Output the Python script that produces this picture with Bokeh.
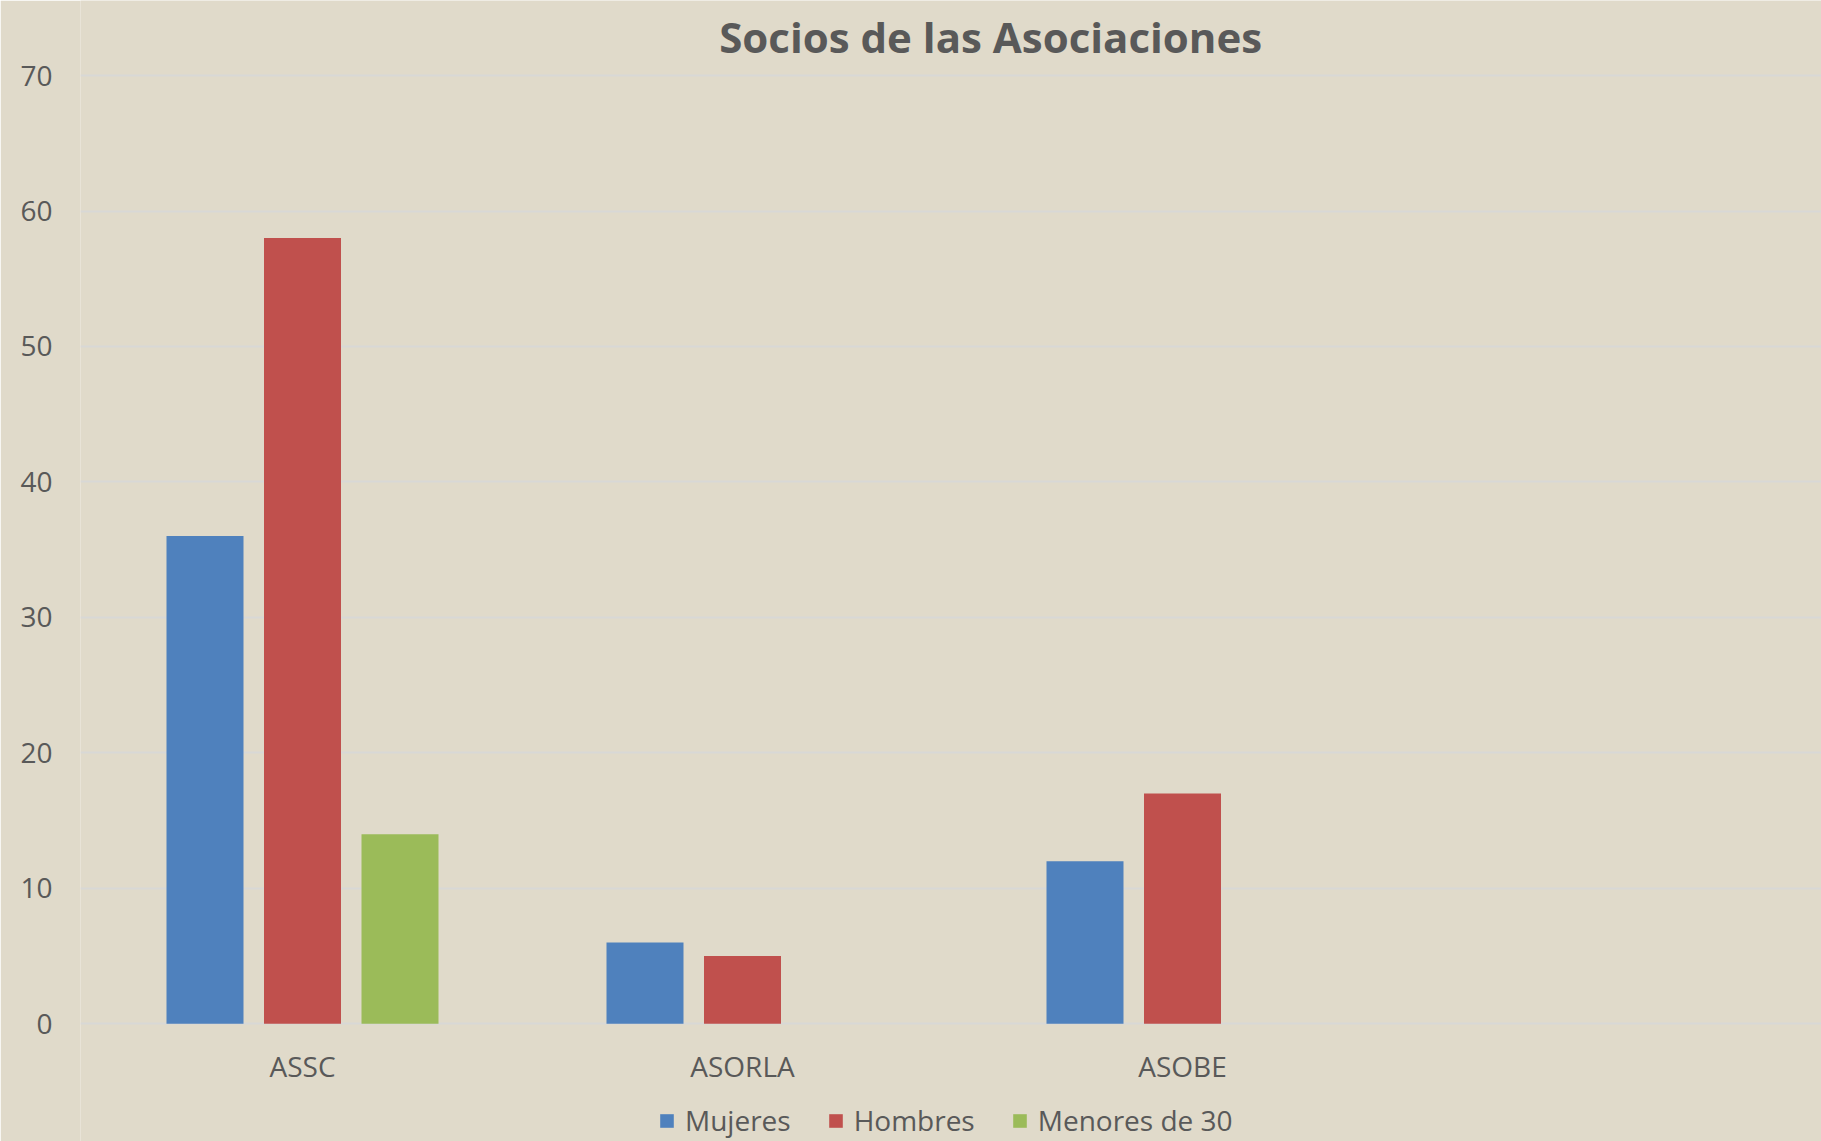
from bokeh.plotting import figure
from bokeh.models import Range1d, FixedTicker, ColumnDataSource, Legend, LegendItem, Label
from bokeh.embed import file_html
from bokeh.resources import INLINE
from bokeh.core.properties import value
from bokeh.transform import dodge

# ---- data ----
categories = ["ASSC", "ASORLA", "ASOBE"]
series_names = ["Mujeres", "Hombres", "Menores de 30"]
mujeres = [36, 6, 12]
hombres = [58, 5, 17]
menores = [14, 0, 0]
y_ticks = [0, 10, 20, 30, 40, 50, 60, 70]
title_text = "Socios de las Asociaciones"

# ---- style ----
colors = ["#4F81BD", "#C0504D", "#9BBB59"]
bg = "#E0DACA"
txt = "#595959"
font = "Open Sans"

W, H = 1821, 1141
frame_left = 80
px_per_cat = 440.0
x0 = -2 / px_per_cat
x_end = x0 + (W - frame_left) / px_per_cat

xpos = [i + 0.5 for i in range(len(categories))]
src = ColumnDataSource(dict(x=xpos, cat=categories, Mujeres=mujeres,
                            Hombres=hombres, Menores=menores))

p = figure(width=W, height=H, x_range=Range1d(x0, x_end),
           y_range=Range1d(-8.69, 75.54),
           output_backend="svg", toolbar_location=None,
           min_border_left=frame_left, min_border_right=0,
           min_border_top=0, min_border_bottom=0,
           background_fill_color=bg, border_fill_color=bg,
           outline_line_color=None)

offsets = [-0.2216, 0.0, 0.2216]
cols = ["Mujeres", "Hombres", "Menores"]
renderers = []
for col, off, c in zip(cols, offsets, colors):
    r = p.vbar(x=dodge("x", off, range=p.x_range), top=col, bottom=0,
               width=0.175, source=src, fill_color=c, line_color=None)
    renderers.append(r)

# category labels (below the zero line)
p.text(x="x", y=-3.08, text="cat", source=src, text_font=value(font),
       text_font_size="28px", text_color=txt, text_align="center",
       text_baseline="middle")

# axes
p.xaxis.visible = False
p.yaxis.ticker = FixedTicker(ticks=y_ticks)
p.yaxis.axis_line_color = None
p.yaxis.major_tick_line_color = None
p.yaxis.minor_tick_line_color = None
p.yaxis.major_label_text_font = font
p.yaxis.major_label_text_font_size = "28px"
p.yaxis.major_label_text_color = txt
p.yaxis.major_label_standoff = 22

p.xgrid.grid_line_color = None
p.ygrid.ticker = FixedTicker(ticks=y_ticks)
p.ygrid.grid_line_color = "#D8D8D6"
p.ygrid.grid_line_width = 2

# title
p.add_layout(Label(x=2.064, y=72.88, text=title_text, text_font=font,
                   text_font_size="42px", text_font_style="bold",
                   text_color=txt, text_align="center",
                   text_baseline="middle"))

legend = Legend(items=[LegendItem(label=n, renderers=[r])
                       for n, r in zip(series_names, renderers)],
                orientation="horizontal", location=(578, 2),
                label_text_font=font, label_text_font_size="28px",
                label_text_color=txt, glyph_width=17, glyph_height=17,
                label_standoff=10, spacing=36, padding=0, margin=0,
                background_fill_alpha=0, border_line_color=None)
p.add_layout(legend)

open("out.html", "w").write(file_html(p, INLINE))
